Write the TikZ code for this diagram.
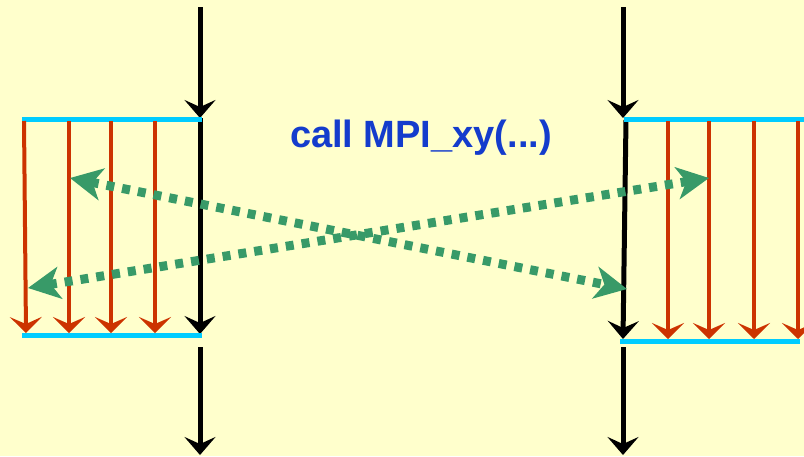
\documentclass[tikz,border=0pt]{standalone}
\usepackage{fontspec}
\setmainfont{Liberation Sans}
\usetikzlibrary{arrows.meta}
\definecolor{bgyellow}{RGB}{255,255,204}
\definecolor{redline}{RGB}{204,51,0}
\definecolor{cyanline}{RGB}{0,204,255}
\definecolor{greenmsg}{RGB}{56,154,104}
\definecolor{bluetext}{RGB}{20,60,204}
\tikzset{
  timeline/.style={line width=5pt, draw=black, -{Stealth[length=18pt,width=31pt,inset=7pt]}},
  bufline/.style={line width=5pt, draw=cyanline},
  copyline/.style={line width=4pt, draw=redline, -{Stealth[length=16pt,width=32pt,inset=7pt]}},
  msgline/.style={line width=9pt, draw=greenmsg, dash pattern=on 8pt off 8pt,
     {Stealth[length=32pt,width=32pt,inset=9pt]}-{Stealth[length=32pt,width=32pt,inset=9pt]}},
  calltext/.style={text=bluetext, font=\bfseries\fontsize{38}{44}\selectfont, inner sep=0pt}
}
\begin{document}
\begin{tikzpicture}[x=1pt,y=-1pt]
\fill[bgyellow] (0,0) rectangle (804,456);
\useasboundingbox (0,0) rectangle (804,456);
% left process
\coordinate (L0) at (200,7);
\coordinate (L1) at (200,118);
\coordinate (L2) at (200,334);
\coordinate (L3) at (200,347);
\coordinate (L4) at (200,455);
\draw[timeline] (L0) -- (L1);
\draw[timeline] (L1) -- (L2);
\draw[timeline] (L3) -- (L4);
\coordinate (LBt0) at (22,119);
\coordinate (LBt1) at (202,119);
\coordinate (LBb0) at (22,335);
\coordinate (LBb1) at (202,335);
\draw[bufline] (LBt0) -- (LBt1);
\draw[bufline] (LBb0) -- (LBb1);
\foreach \n/\a/\b in {1/24/26,2/69/69,3/111/111,4/155/155}{
  \coordinate (lr\n t) at (\a,121);
  \coordinate (lr\n b) at (\b,333);
  \draw[copyline] (lr\n t) -- (lr\n b);
}
% right process
\coordinate (R0) at (623,7);
\coordinate (R1) at (623,118);
\coordinate (R1b) at (626,120);
\coordinate (R2) at (623,339);
\coordinate (R3) at (623,347);
\coordinate (R4) at (623,455);
\draw[timeline] (R0) -- (R1);
\draw[timeline] (R1b) -- (R2);
\draw[timeline] (R3) -- (R4);
\coordinate (RBt0) at (624,119);
\coordinate (RBt1) at (804,119);
\coordinate (RBb0) at (620,341);
\coordinate (RBb1) at (800,341);
\draw[bufline] (RBt0) -- (RBt1);
\draw[bufline] (RBb0) -- (RBb1);
\foreach \n/\a in {1/668,2/709,3/754,4/798}{
  \coordinate (rr\n t) at (\a,121);
  \coordinate (rr\n b) at (\a,339);
  \draw[copyline] (rr\n t) -- (rr\n b);
}
% messages
\coordinate (mA0) at (70,178);
\coordinate (mA1) at (627,289);
\coordinate (mB0) at (28,288);
\coordinate (mB1) at (709,178);
\draw[msgline] (mA0) -- (mA1);
\draw[msgline] (mB0) -- (mB1);
% label
\node[calltext] (call) at (421,138) {call MPI\_xy(...)};
\end{tikzpicture}
\end{document}
